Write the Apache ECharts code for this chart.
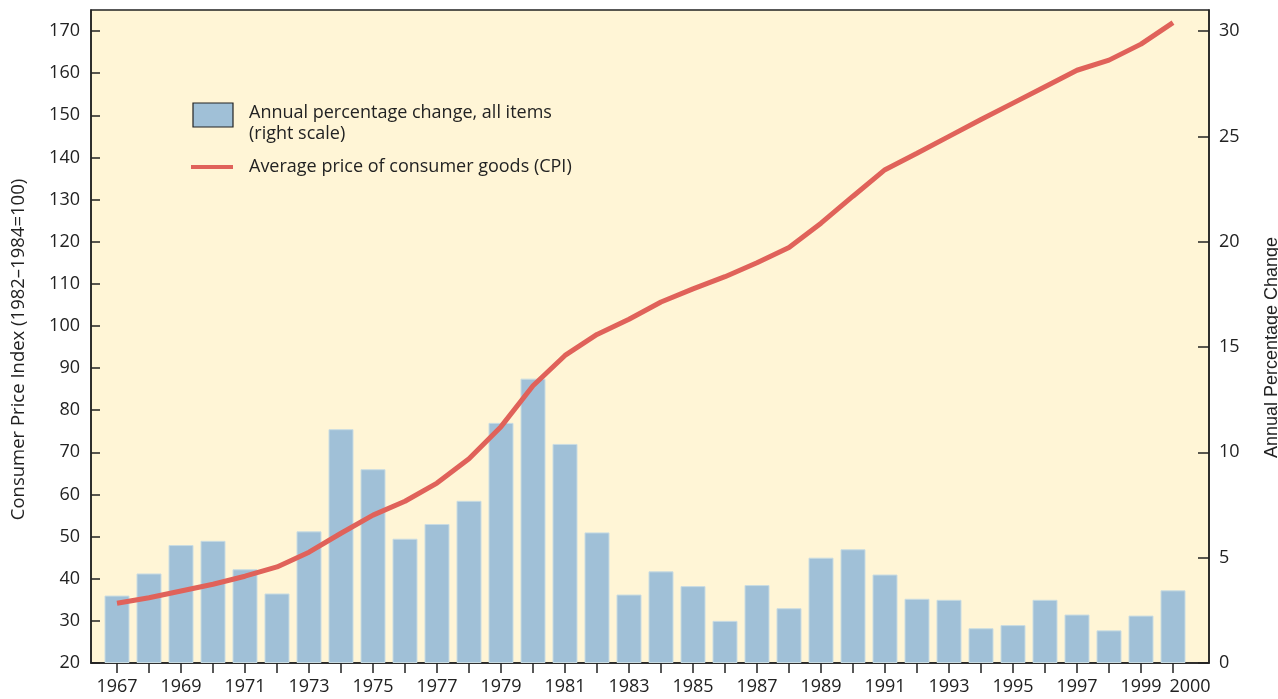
<!DOCTYPE html>
<html>
<head>
<meta charset="utf-8">
<title>CPI 1967-2000</title>
<script src="https://cdn.jsdelivr.net/npm/echarts@6/dist/echarts.min.js"></script>
<style>
    html, body { margin: 0; padding: 0; background: #fff; }
    #main { width: 1278px; height: 699px; }
</style>
</head>
<body>
<div id="main"></div>
<script>
// years on the x axis
var years = [1967, 1968, 1969, 1970, 1971, 1972, 1973, 1974, 1975, 1976, 1977, 1978,
    1979, 1980, 1981, 1982, 1983, 1984, 1985, 1986, 1987, 1988, 1989, 1990,
    1991, 1992, 1993, 1994, 1995, 1996, 1997, 1998, 1999, 2000];
// labelled years (odd ones + 2000)
var labelYears = [1967, 1969, 1971, 1973, 1975, 1977, 1979, 1981, 1983, 1985, 1987,
    1989, 1991, 1993, 1995, 1997, 1999, 2000];
// annual percentage change, all items (right scale)
var pctChange = [3.2, 4.25, 5.6, 5.8, 4.45, 3.3, 6.25, 11.1, 9.2, 5.9, 6.6, 7.7,
    11.4, 13.5, 10.4, 6.2, 3.25, 4.35, 3.65, 2.0, 3.7, 2.6, 5.0, 5.4,
    4.2, 3.05, 3.0, 1.65, 1.8, 3.0, 2.3, 1.55, 2.25, 3.45];
// average price of consumer goods (CPI, left scale)
var cpi = [34.2, 35.5, 37.1, 38.7, 40.6, 42.8, 46.3, 50.8, 55.1, 58.4, 62.7, 68.5,
    76.1, 85.8, 93.0, 98.0, 101.6, 105.7, 108.8, 111.7, 115.0, 118.6, 124.4, 130.8,
    137.1, 141.0, 145.0, 149.0, 152.9, 156.8, 160.7, 163.1, 166.9, 172.0];
// tick labels
var leftTicks = [20, 30, 40, 50, 60, 70, 80, 90, 100, 110, 120, 130, 140, 150, 160, 170];
var rightTicks = [0, 5, 10, 15, 20, 25, 30];

var barName = 'Annual percentage change, all items\n(right scale)';
var lineName = 'Average price of consumer goods (CPI)';

var font = "'Open Sans', 'Noto Sans', sans-serif";
var ink = '#222';

var barData = years.map(function (y, i) { return [y, pctChange[i]]; });
var lineData = years.map(function (y, i) { return [y, cpi[i]]; });

var myChart = echarts.init(document.getElementById('main'));

var option = {
    animation: false,
    backgroundColor: '#fff',
    grid: {
        left: 91, right: 69, top: 10, bottom: 36,
        outerBoundsMode: 'none', // keep the plot box fixed
        show: true,
        backgroundColor: '#FFF5D6',
        borderColor: ink,
        borderWidth: 1.5
    },
    xAxis: {
        type: 'value',
        min: 1966.1875,
        max: 2001.125,
        splitLine: { show: false },
        axisLine: { lineStyle: { color: ink, width: 1.5 } },
        axisTick: {
            customValues: years,
            length: 10,
            lineStyle: { color: ink, width: 1.5 }
        },
        axisLabel: {
            customValues: labelYears,
            margin: 15,
            color: ink,
            fontFamily: font,
            fontSize: 18,
            formatter: function (v) {
                // 2000 sits a bit right of its tick
                return v === 2000 ? '{s|2000}' : String(v);
            },
            rich: {
                s: { padding: [0, 0, 0, 34], fontFamily: font, fontSize: 18, color: ink }
            }
        }
    },
    yAxis: [{
        type: 'value',
        min: 20,
        max: 175,
        interval: 10,
        position: 'left',
        name: 'Consumer Price Index (1982\u20131984=100)',
        nameLocation: 'middle',
        nameRotate: 90,
        nameGap: 63,
        // pushed a little below the axis middle, as in the original
        nameTextStyle: { color: ink, fontFamily: font, fontSize: 18.5, padding: [0, 26, 0, 0] },
        splitLine: { show: false },
        axisLine: { show: true, lineStyle: { color: ink, width: 1.5 } },
        axisTick: {
            show: true, inside: true, length: 9,
            customValues: leftTicks,
            lineStyle: { color: ink, width: 1.5 }
        },
        axisLabel: {
            customValues: leftTicks,
            margin: 11,
            color: ink,
            fontFamily: font,
            fontSize: 18
        }
    }, {
        type: 'value',
        min: 0,
        max: 31,
        interval: 5,
        position: 'right',
        name: 'Annual Percentage Change',
        nameLocation: 'middle',
        nameRotate: 90,
        nameGap: 54,
        nameTextStyle: {
            color: ink, fontFamily: "'Liberation Sans', Arial, sans-serif", fontSize: 18,
            padding: [0, 22, 0, 0]
        },
        splitLine: { show: false },
        axisLine: { show: true, lineStyle: { color: ink, width: 1.5 } },
        axisTick: {
            show: true, inside: true, length: 11,
            customValues: rightTicks,
            lineStyle: { color: ink, width: 1.5 }
        },
        axisLabel: {
            customValues: rightTicks,
            margin: 10,
            color: ink,
            fontFamily: font,
            fontSize: 18
        }
    }],
    series: [{
        name: barName,
        type: 'bar',
        yAxisIndex: 1,
        barWidth: 25,
        data: barData,
        itemStyle: { color: '#A0C0D7', borderColor: '#C9DCE2', borderWidth: 1 }
    }, {
        name: lineName,
        type: 'line',
        yAxisIndex: 0,
        data: lineData,
        showSymbol: false,
        symbol: 'none',
        lineStyle: { color: '#E0625A', width: 5 },
        z: 5
    }],
    // legend drawn by hand so the box lines up with the first text line
    graphic: [{
        type: 'rect',
        shape: { x: 193, y: 103, width: 40, height: 24 },
        style: { fill: '#A0C0D7', stroke: ink, lineWidth: 1.2 }
    }, {
        type: 'text',
        x: 249, y: 102,
        style: {
            text: barName,
            fill: ink, font: '18px ' + font, lineHeight: 21
        }
    }, {
        type: 'line',
        shape: { x1: 191, y1: 167, x2: 233, y2: 167 },
        style: { stroke: '#E0625A', lineWidth: 4 }
    }, {
        type: 'text',
        x: 249, y: 156,
        style: {
            text: lineName,
            fill: ink, font: '18px ' + font, lineHeight: 21
        }
    }]
};

myChart.setOption(option);
</script>
</body>
</html>
